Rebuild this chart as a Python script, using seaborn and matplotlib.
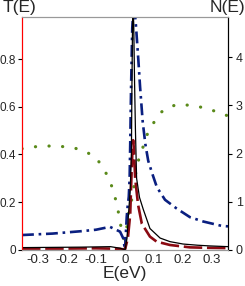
import numpy as np
import pandas as pd
import seaborn as sb
import matplotlib.pyplot as plt

# transmission T(E), black solid
e_black = [-0.355, -0.25, -0.15, -0.1, -0.05, -0.015, 0.0, 0.007, 0.012, 0.018, 0.022, 0.024,
           0.026, 0.028, 0.030, 0.033, 0.036, 0.040, 0.05, 0.063, 0.086, 0.121, 0.155, 0.2,
           0.25, 0.293, 0.355]
t_black = [0.010, 0.011, 0.012, 0.013, 0.014, 0.007, 0.0, 0.05, 0.15, 0.25, 0.40, 0.70,
           0.95, 1.0, 0.95, 0.70, 0.50, 0.30, 0.22, 0.17, 0.09, 0.05, 0.035, 0.025,
           0.020, 0.017, 0.014]

# transmission, dark red dashed
e_red = [-0.355, -0.2, -0.1, -0.02, 0.0, 0.01, 0.018, 0.022, 0.026, 0.028, 0.031, 0.035,
         0.045, 0.058, 0.086, 0.109, 0.155, 0.224, 0.29, 0.355]
t_red = [0.006, 0.006, 0.007, 0.005, 0.002, 0.05, 0.15, 0.30, 0.43, 0.46, 0.42, 0.30,
         0.19, 0.11, 0.056, 0.035, 0.021, 0.011, 0.009, 0.008]

# DOS N(E), blue dash-dot
e_blue = [-0.355, -0.25, -0.15, -0.1, -0.052, -0.017, -0.006, 0.0, 0.006, 0.009, 0.013,
          0.016, 0.018, 0.021, 0.023, 0.025, 0.029, 0.033, 0.038, 0.046, 0.052, 0.061,
          0.07, 0.08, 0.093, 0.11, 0.138, 0.178, 0.224, 0.27, 0.333, 0.355]
n_blue = [0.31, 0.34, 0.39, 0.42, 0.48, 0.38, 0.24, 0.0, 0.69, 0.90, 1.10,
          1.5, 2.2, 3.4, 4.0, 4.6, 5.0, 5.0, 4.63, 3.94, 3.38, 2.66,
          2.2, 1.85, 1.6, 1.3, 1.04, 0.86, 0.68, 0.59, 0.50, 0.49]

# DOS, green dotted
e_green = [-0.355, -0.31, -0.276, -0.241, -0.207, -0.172, -0.136, -0.101, -0.084, -0.066,
           -0.052, -0.038, -0.029, -0.023, -0.017, -0.006, 0.0, 0.006, 0.012, 0.023, 0.029,
           0.034, 0.040, 0.049, 0.061, 0.069, 0.086, 0.103, 0.123, 0.153, 0.186, 0.221,
           0.255, 0.29, 0.322, 0.355]
n_green = [2.10, 2.14, 2.155, 2.155, 2.14, 2.11, 2.04, 1.92, 1.78, 1.60,
           1.42, 1.20, 0.95, 0.79, 0.56, 0.32, 0.08, 0.46, 0.75, 1.04, 1.21,
           1.49, 1.70, 1.92, 2.11, 2.31, 2.50, 2.68, 2.85, 2.97, 3.02, 3.00,
           2.97, 2.92, 2.85, 2.78]

xticks = [-0.3, -0.2, -0.1, 0, 0.1, 0.2, 0.3]
xlabels = ['-0.3', '-0.2', '-0.1', '0', '0.1', '0.2', '0.3']
tticks = [0, 0.2, 0.4, 0.6, 0.8]
tlabels = ['0', '0.2', '0.4', '0.6', '0.8']
nticks = [0, 1, 2, 3, 4]
nlabels = ['0', '1', '2', '3', '4']

sb.set_style('white')
plt.rcParams['font.family'] = ['Liberation Sans', 'DejaVu Sans']

fig = plt.figure(figsize=(2.45, 2.86), dpi=100)
ax = fig.add_axes([0.0898, 0.1259, 0.8408, 0.8147])
ax2 = ax.twinx()
ax.set_zorder(ax2.get_zorder() + 1)
ax.patch.set_visible(False)

dfg = pd.DataFrame({'E': e_green, 'N': n_green})
dfb = pd.DataFrame({'E': e_blue, 'N': n_blue})
sb.lineplot(data=dfg, x='E', y='N', ax=ax2, color='#5a8a1a', lw=2.3,
            linestyle=(0, (0.05, 4.2)), dash_capstyle='round', solid_capstyle='round')
sb.lineplot(data=dfb, x='E', y='N', ax=ax2, color='#0a1f80', lw=1.9)
ax2.lines[-1].set_dashes([4.5, 1.8, 1.0, 1.8])

dfr = pd.DataFrame({'E': e_red, 'T': t_red})
dfk = pd.DataFrame({'E': e_black, 'T': t_black})
sb.lineplot(data=dfr, x='E', y='T', ax=ax, color='#8b0a12', lw=1.9)
ax.lines[-1].set_dashes([7, 1.8])
sb.lineplot(data=dfk, x='E', y='T', ax=ax, color='black', lw=0.9)

ax.set_xlim(-0.355, 0.355)
ax.set_ylim(0, 0.976)
ax2.set_ylim(0, 4.83)

ax.set_xticks(xticks)
ax.set_xticklabels(xlabels)
ax.set_yticks(tticks)
ax.set_yticklabels(tlabels)
ax2.set_yticks(nticks)
ax2.set_yticklabels(nlabels)

ax.tick_params(axis='x', direction='in', length=2.5, color='#999999', labelsize=9.5, pad=3)
ax.tick_params(axis='y', direction='out', length=3, color='black', labelsize=8.5, pad=1.5, left=True)
ax2.tick_params(axis='y', direction='out', length=3, color='black', labelsize=9, pad=2.5, right=True)

for a in (ax, ax2):
    a.spines['left'].set_color('red')
    a.spines['right'].set_color('black')
    a.spines['top'].set_color('#999999')
    a.spines['bottom'].set_color('#999999')
    for s in a.spines.values():
        s.set_linewidth(0.8)

ax.set_xlabel('E(eV)', fontsize=12.5, labelpad=0)
ax.set_ylabel('')
ax2.set_ylabel('')
fig.text(0.01, 1.0, 'T(E)', fontsize=12.5, ha='left', va='top')
fig.text(1.0, 1.0, 'N(E)', fontsize=12.5, ha='right', va='top')

plt.savefig('out.png', dpi=100)
